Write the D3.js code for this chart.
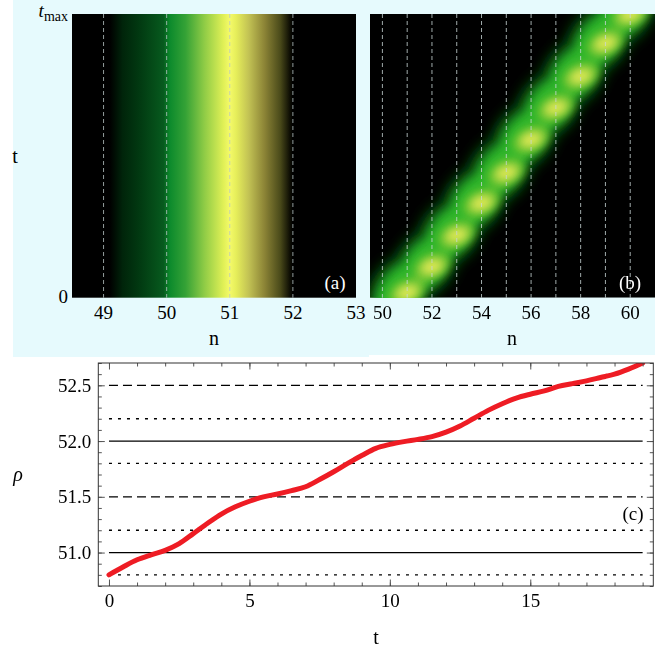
<!DOCTYPE html>
<html>
<head>
<meta charset="utf-8">
<script src="https://cdn.jsdelivr.net/npm/d3@7"></script>
<style>
  body { margin: 0; background: #fff; }
  svg, svg text { font-family: "Liberation Serif", "Times New Roman", "DejaVu Serif", serif; }
  svg { display: block; }
</style>
</head>
<body>
<svg id="fig" width="664" height="648" font-family="Liberation Serif, serif"></svg>
<script>
// panel (a): colour of the (time independent) density profile across n
const stripN     = [48.5, 49.1, 49.3, 49.6, 49.95, 50.05, 50.3, 50.6, 50.9, 51.0, 51.1, 51.3, 51.55, 51.8, 51.95, 52.0, 53];
const stripColor = ["#000000", "#000000", "#00240a", "#023c12", "#075a1e", "#0c8a2c", "#35a236", "#90cc46", "#e0f056",
                    "#f4fa6a", "#e6ee5a", "#c2c254", "#8c8436", "#4a4a1a", "#0e0e04", "#000000", "#000000"];
const sitesA = [49, 50, 51, 52];
const ticksA = [49, 50, 51, 52, 53];

// panel (b): bright spots of the moving packet (n, t/tmax)
const spotN = [51, 52, 53, 54, 55, 56, 57, 58, 59, 60];
const spotT = [0.018, 0.109, 0.220, 0.334, 0.440, 0.557, 0.669, 0.780, 0.897, 0.999];
const sitesB = [50, 51, 52, 53, 54, 55, 56, 57, 58, 59, 60];
const ticksB = [50, 52, 54, 56, 58, 60];

// panel (c): centre of mass rho(t)
const tVals   = [0, 0.5, 1, 1.5, 2, 2.5, 3, 3.5, 4, 4.5, 5, 5.5, 6, 6.5, 7, 7.5, 8, 8.5, 9, 9.5,
                 10, 10.5, 11, 11.5, 12, 12.5, 13, 13.5, 14, 14.5, 15, 15.5, 16, 16.5, 17, 17.5, 18, 18.5, 19];
const rhoVals = [50.80, 50.87, 50.935, 50.98, 51.02, 51.08, 51.17, 51.26, 51.345, 51.41, 51.46, 51.50, 51.525, 51.555,
                 51.59, 51.655, 51.725, 51.80, 51.87, 51.935, 51.97, 51.995, 52.015, 52.04, 52.08, 52.135, 52.205,
                 52.275, 52.335, 52.385, 52.42, 52.45, 52.49, 52.515, 52.54, 52.57, 52.60, 52.645, 52.70];
const solidLevels  = [51, 52];
const dashedLevels = [51.5, 52.5];
const dottedLevels = [50.8, 51.2, 51.8, 52.2];
const levelSpan = [0, 19];
const xTicksC = [0, 5, 10, 15];
const yTicksC = [51, 51.5, 52, 52.5];

const serif = "Liberation Serif, Times New Roman, serif";
const svg = d3.select("#fig");
const defs = svg.append("defs");
const bg = "#e6fafd";

// light cyan backdrop of the two top images
svg.append("rect").attr("x", 13).attr("y", 0).attr("width", 356).attr("height", 357).attr("fill", bg);
svg.append("rect").attr("x", 369).attr("y", 0).attr("width", 286).attr("height", 355).attr("fill", bg);

// ---------- panel (a) ----------
const xA = d3.scaleLinear().domain([48.5, 53]).range([72, 356]);
const tY = d3.scaleLinear().domain([0, 1]).range([297.7, 14]);

const grad = defs.append("linearGradient")
    .attr("id", "strip")
    .attr("gradientUnits", "userSpaceOnUse")
    .attr("x1", xA(48.5)).attr("x2", xA(53)).attr("y1", 0).attr("y2", 0);
grad.selectAll("stop")
    .data(stripN)
    .join("stop")
    .attr("offset", d => (xA(d) - xA(48.5)) / (xA(53) - xA(48.5)))
    .attr("stop-color", (d, i) => stripColor[i]);

const gA = svg.append("g");
gA.append("rect")
    .attr("x", xA(48.5)).attr("y", tY(1))
    .attr("width", xA(53) - xA(48.5)).attr("height", tY(0) - tY(1))
    .attr("fill", "url(#strip)");
gA.selectAll("line.site")
    .data(sitesA)
    .join("line")
    .attr("class", "site")
    .attr("x1", d => xA(d)).attr("x2", d => xA(d))
    .attr("y1", tY(1)).attr("y2", tY(0))
    .attr("stroke", "#b8c4c4").attr("stroke-opacity", 0.8)
    .attr("stroke-width", 1).attr("stroke-dasharray", "4,3");

gA.selectAll("text.tick")
    .data(ticksA)
    .join("text")
    .attr("class", "tick")
    .attr("x", d => xA(d)).attr("y", 319)
    .attr("text-anchor", "middle").attr("font-size", 19)
    .text(d => d);

// t axis labels
const tmax = svg.append("text").attr("x", 68).attr("y", 17).attr("text-anchor", "end").attr("font-size", 19);
tmax.append("tspan").attr("font-style", "italic").text("t");
tmax.append("tspan").attr("font-size", 14).attr("dy", 4).text("max");
svg.append("text").attr("x", 68).attr("y", 303).attr("text-anchor", "end").attr("font-size", 19).text("0");
svg.append("text").attr("x", 15).attr("y", 163).attr("text-anchor", "middle").attr("font-size", 20).text("t");
svg.append("text").attr("x", 214).attr("y", 345).attr("text-anchor", "middle").attr("font-size", 20).text("n");
svg.append("text").attr("x", 335).attr("y", 289).attr("text-anchor", "middle").attr("font-size", 19)
    .attr("fill", "#fff").text("(a)");

// ---------- panel (b) ----------
const xB = d3.scaleLinear().domain([49.5, 61]).range([370, 655]);

defs.append("clipPath").attr("id", "clipB")
  .append("rect")
    .attr("x", xB(49.5)).attr("y", tY(1))
    .attr("width", xB(61) - xB(49.5)).attr("height", tY(0) - tY(1));

[["blurOuter", 7], ["blurMid", 5], ["blurHalo", 5], ["blurCore", 4]].forEach(([id, s]) => {
    defs.append("filter").attr("id", id)
        .attr("x", "-60%").attr("y", "-60%").attr("width", "220%").attr("height", "220%")
      .append("feGaussianBlur").attr("stdDeviation", s);
});

const spots = spotN.map((n, i) => ({ n: n, t: spotT[i] }));
const first = spots[0], last = spots[spots.length - 1];
const angle = Math.atan2(tY(last.t) - tY(first.t), xB(last.n) - xB(first.n)) * 180 / Math.PI;

const gB = svg.append("g").attr("clip-path", "url(#clipB)");
gB.append("rect")
    .attr("x", xB(49.5)).attr("y", tY(1))
    .attr("width", xB(61) - xB(49.5)).attr("height", tY(0) - tY(1))
    .attr("fill", "#000");

// packet drawn as overlapping blurred blobs around each spot;
// the green halo sits a little up-left of the yellow core
const layers = [
    { filter: "blurOuter", rx: 38, ry: 28, fill: "#0e6a18", op: 1,    shift: [-7, -3], rot: angle },
    { filter: "blurMid",   rx: 32, ry: 19, fill: "#2fb62c", op: 1,    shift: [-6, -3], rot: angle },
    { filter: "blurHalo",  rx: 19, ry: 12, fill: "#8ccc38", op: 0.85, shift: [0, 0],   rot: angle / 2 },
    { filter: "blurCore",  rx: 11, ry: 7,  fill: "#e4ea58", op: 0.9,  shift: [0, 0],   rot: angle / 3 }
];
layers.forEach(l => {
    gB.append("g")
        .attr("filter", `url(#${l.filter})`)
        .attr("opacity", l.op)
        .attr("transform", `translate(${l.shift[0]},${l.shift[1]})`)
        .selectAll("ellipse")
        .data(spots)
        .join("ellipse")
        .attr("cx", d => xB(d.n)).attr("cy", d => tY(d.t))
        .attr("rx", l.rx).attr("ry", l.ry)
        .attr("transform", d => `rotate(${l.rot} ${xB(d.n)} ${tY(d.t)})`)
        .attr("fill", l.fill);
});

gB.selectAll("line.site")
    .data(sitesB)
    .join("line")
    .attr("class", "site")
    .attr("x1", d => xB(d)).attr("x2", d => xB(d))
    .attr("y1", tY(1)).attr("y2", tY(0))
    .attr("stroke", "#c8d6d6").attr("stroke-opacity", 0.8)
    .attr("stroke-width", 1).attr("stroke-dasharray", "4,3");

svg.selectAll("text.tickB")
    .data(ticksB)
    .join("text")
    .attr("class", "tickB")
    .attr("x", d => xB(d)).attr("y", 319)
    .attr("text-anchor", "middle").attr("font-size", 19)
    .text(d => d);
svg.append("text").attr("x", 512).attr("y", 345).attr("text-anchor", "middle").attr("font-size", 20).text("n");
svg.append("text").attr("x", 630).attr("y", 289).attr("text-anchor", "middle").attr("font-size", 19)
    .attr("fill", "#fff").text("(b)");

// ---------- panel (c) ----------
const xC = d3.scaleLinear().domain([-0.38, 19.38]).range([98.3, 653.3]);
const yC = d3.scaleLinear().domain([50.7, 52.7]).range([586, 363]);

const cBottom = yC.range()[0], cTop = yC.range()[1];
const cLeft = xC.range()[0], cRight = xC.range()[1];

defs.append("clipPath").attr("id", "clipC")
  .append("rect")
    .attr("x", cLeft).attr("y", cTop)
    .attr("width", cRight - cLeft).attr("height", cBottom - cTop);

const gC = svg.append("g");

const levelStyles = [
    { levels: solidLevels,  dash: null },
    { levels: dashedLevels, dash: "9,5" },
    { levels: dottedLevels, dash: "3,6" }
];
levelStyles.forEach(s => {
    gC.append("g")
        .selectAll("line")
        .data(s.levels)
        .join("line")
        .attr("x1", xC(levelSpan[0])).attr("x2", xC(levelSpan[1]))
        .attr("y1", d => yC(d)).attr("y2", d => yC(d))
        .attr("stroke", "#000").attr("stroke-width", 1.3)
        .attr("stroke-dasharray", s.dash);
});

const line = d3.line()
    .x((d, i) => xC(tVals[i]))
    .y(d => yC(d))
    .curve(d3.curveCatmullRom);
gC.append("path")
    .datum(rhoVals)
    .attr("clip-path", "url(#clipC)")
    .attr("d", line)
    .attr("fill", "none")
    .attr("stroke", "#ee1c24")
    .attr("stroke-width", 5)
    .attr("stroke-linecap", "round");

// axes with inward ticks on all four sides
const minorT = d3.range(0, 20);
const minorRho = d3.range(7, 28).map(i => 50 + i / 10);

function frameAxis(axis, tx, ty) {
    const g = gC.append("g").attr("transform", `translate(${tx},${ty})`).call(axis);
    g.attr("font-family", serif);
    g.select(".domain").remove();
    g.selectAll("line").attr("stroke", "#555");
    g.selectAll("text").attr("font-size", 19).attr("font-family", serif).attr("fill", "#000");
    return g;
}
frameAxis(d3.axisBottom(xC).tickValues(minorT).tickSize(-3.5).tickFormat(""), 0, cBottom);
frameAxis(d3.axisBottom(xC).tickValues(xTicksC).tickSize(-6.5).tickPadding(7.5).tickFormat(d3.format("d")), 0, cBottom);
frameAxis(d3.axisTop(xC).tickValues(minorT).tickSize(-3.5).tickFormat(""), 0, cTop);
frameAxis(d3.axisTop(xC).tickValues(xTicksC).tickSize(-6.5).tickFormat(""), 0, cTop);
frameAxis(d3.axisLeft(yC).tickValues(minorRho).tickSize(-3.5).tickFormat(""), cLeft, 0);
frameAxis(d3.axisLeft(yC).tickValues(yTicksC).tickSize(-6.5).tickPadding(7).tickFormat(d3.format(".1f")), cLeft, 0);
frameAxis(d3.axisRight(yC).tickValues(minorRho).tickSize(-3.5).tickFormat(""), cRight, 0);
frameAxis(d3.axisRight(yC).tickValues(yTicksC).tickSize(-6.5).tickFormat(""), cRight, 0);

gC.append("rect")
    .attr("x", cLeft).attr("y", cTop)
    .attr("width", cRight - cLeft).attr("height", cBottom - cTop)
    .attr("fill", "none").attr("stroke", "#333").attr("stroke-width", 1);

svg.append("text").attr("x", 18).attr("y", 481).attr("text-anchor", "middle")
    .attr("font-size", 20).attr("font-style", "italic").text("ρ");
svg.append("text").attr("x", 376).attr("y", 644).attr("text-anchor", "middle").attr("font-size", 20).text("t");
svg.append("text").attr("x", 633).attr("y", 520).attr("text-anchor", "middle").attr("font-size", 19).text("(c)");

// make sure every label uses the serif face
svg.selectAll("text").attr("font-family", serif);
</script>
</body>
</html>
